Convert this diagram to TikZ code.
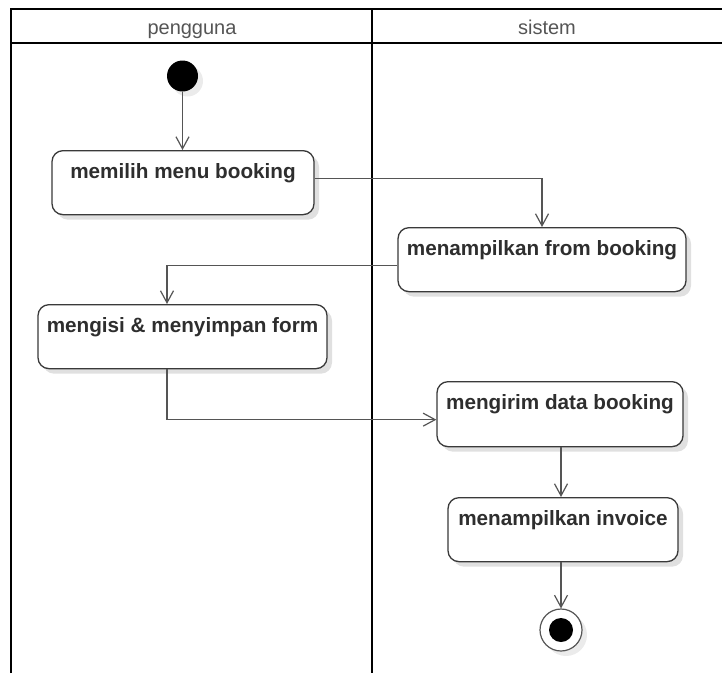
\documentclass[tikz,border=0pt]{standalone}
\usepackage{fontspec}
\setmainfont{Liberation Sans}
\usetikzlibrary{arrows.meta,shadows,calc}
\definecolor{boxline}{HTML}{3A3A3A}
\definecolor{conn}{HTML}{555555}
\definecolor{txt}{HTML}{2E2E2E}
\definecolor{hdr}{HTML}{555555}
\begin{document}
\begin{tikzpicture}[x=1pt,y=-1pt,
  lane/.style={line width=2.5pt,black},
  actbox/.style={draw=boxline,line width=1.3pt,rounded corners=11pt,fill=white,
    anchor=north,inner xsep=0pt,inner ysep=0pt,text height=27.5pt,text depth=36.5pt,
    font=\fontsize{20.7}{24}\selectfont\bfseries,text=txt,
    drop shadow={shadow xshift=5pt,shadow yshift=-5pt,opacity=0.12,fill=black}},
  hdrtext/.style={font=\fontsize{20}{22}\selectfont,text=hdr,inner sep=0pt,anchor=base},
  flow/.style={draw=conn,line width=1.2pt,-{Straight Barb[length=12pt,width=13pt,line width=1.2pt]}},
  startdot/.style={circle,fill=black,minimum size=31pt,inner sep=0pt,
    drop shadow={shadow xshift=5pt,shadow yshift=-5pt,opacity=0.08,fill=black}},
  enddot/.style={circle,draw=conn,line width=1.2pt,fill=white,minimum size=42pt,inner sep=0pt,
    drop shadow={shadow xshift=5pt,shadow yshift=-5pt,opacity=0.08,fill=black}},
  enddotin/.style={circle,fill=black,minimum size=24pt,inner sep=0pt}]
\useasboundingbox (0,0) rectangle (722,673);
\fill[white] (0,0) rectangle (722,673);
% swimlanes
\draw[lane] (11,673) -- (11,9) -- (723,9);
\draw[lane] (11,43) -- (723,43);
\draw[lane] (372,9) -- (372,673);
\node[hdrtext] (h1) at (192,34) {pengguna};
\node[hdrtext] (h2) at (547,34) {sistem};
% nodes
\node[startdot] (start) at (182.5,76) {};
\node[actbox,minimum width=262pt] (n1) at (183,150) {memilih menu booking};
\node[actbox,minimum width=288pt] (n2) at (542,227) {menampilkan from booking};
\node[actbox,minimum width=289pt] (n3) at (182.5,304) {mengisi \& menyimpan form};
\node[actbox,minimum width=246pt,text depth=37.5pt] (n4) at (560,381) {mengirim data booking};
\node[actbox,minimum width=230pt] (n5) at (563,497) {menampilkan invoice};
\node[enddot] (end) at (561,630) {};
\node[enddotin] (endin) at (end) {};
% connectors
\draw[flow] (start) -- (start |- n1.north);
\draw[flow] ([yshift=4.5pt]n1.east) -| (n2.north);
\draw[flow] ([yshift=-6pt]n2.west) -| ([xshift=-15.5pt]n3.north);
\draw[flow] ([xshift=-15.5pt]n3.south) |- ([yshift=-5.5pt]n4.west);
\draw[flow] (end |- n4.south) -- (end |- n5.north);
\draw[flow] (end |- n5.south) -- (end.north);
\end{tikzpicture}
\end{document}
